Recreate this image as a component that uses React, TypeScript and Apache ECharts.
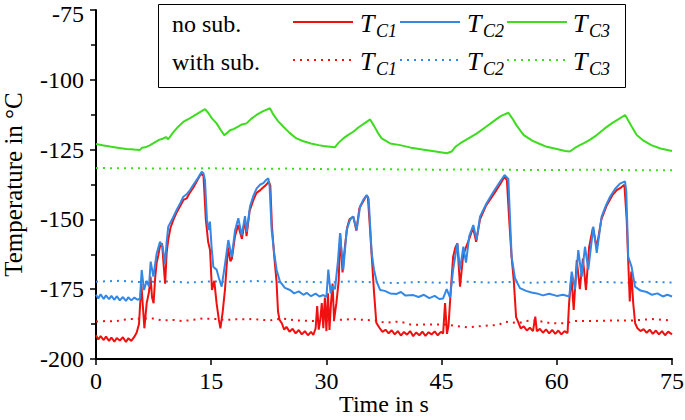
import React, { useEffect, useRef } from "react";
import * as echarts from "echarts";

const FONT = "'Liberation Serif', serif";

const xTicks = [0, 15, 30, 45, 60, 75];
const yTicks = [-200, -175, -150, -125, -100, -75];

const colorC1 = "#f01010";
const colorC2 = "#3388e6";
const colorC3 = "#3ddc1f";

// T_C1, no substitute (solid red)
const tc1NoSub: [number, number][] = [
  [0, -191.5], [0.3, -193], [0.6, -191.8], [1, -193.2], [1.3, -192], [1.7, -193.5], [2, -192.3], [2.4, -193.8],
  [2.7, -192.5], [3.1, -193.4], [3.5, -192.2], [3.9, -193.9], [4.2, -192.6], [4.6, -193.5], [5, -192], [5.3, -190.5],
  [5.6, -187.5], [5.9, -173], [6.1, -181], [6.3, -189], [6.6, -180], [6.9, -176], [7.1, -170.5], [7.3, -178],
  [7.5, -180], [7.7, -171], [7.9, -165.5], [8.1, -163], [8.3, -160], [8.6, -158.6], [8.8, -166], [9.0, -173],
  [9.2, -162], [9.4, -157.4], [9.7, -153], [10.1, -150], [10.5, -147.5], [11, -145], [11.4, -143], [11.8, -142.5],
  [12.2, -140.5], [12.7, -138.5], [13.2, -136], [13.7, -133.5], [14.0, -134.5], [14.3, -150], [14.6, -158],
  [14.85, -161], [15.1, -175.3], [15.4, -172], [15.7, -180], [16.0, -186], [16.2, -189], [16.5, -183], [16.8, -175],
  [17.0, -167], [17.2, -160], [17.5, -165], [17.7, -164], [18.1, -156], [18.5, -152], [19.0, -157], [19.4, -150],
  [19.6, -156], [20.0, -147], [20.5, -143], [20.9, -140.5], [21.4, -139.5], [21.8, -138.5], [22.2, -137.5],
  [22.5, -136.4], [22.7, -138], [22.9, -152], [23.2, -163], [23.5, -172], [23.7, -183], [23.9, -186], [24.2, -187.2],
  [24.5, -189.5], [24.8, -188.5], [25.2, -190.2], [25.6, -189.2], [26, -190.8], [26.4, -189.6], [26.8, -191.2],
  [27.2, -190], [27.6, -191.5], [28, -190.3], [28.3, -191.4], [28.6, -189], [28.8, -181], [29.0, -189.5],
  [29.2, -186], [29.4, -180], [29.6, -189], [29.8, -178], [30.0, -190], [30.2, -176.5], [30.4, -189.6], [30.6, -180],
  [30.8, -173], [31.0, -186], [31.3, -180], [31.6, -172], [31.8, -155], [32.1, -169], [32.4, -160], [32.7, -153],
  [33.0, -150], [33.5, -149], [33.9, -154], [34.3, -146], [34.8, -143.5], [35.2, -141.5], [35.4, -142], [35.6, -150],
  [35.9, -163], [36.2, -176], [36.5, -187], [36.9, -188.8], [37.3, -190.3], [37.7, -189.5], [38.1, -190.8],
  [38.5, -189.7], [38.9, -191.2], [39.3, -190], [39.7, -191.6], [40.1, -190.3], [40.5, -191.3], [40.9, -190],
  [41.3, -191.8], [41.7, -190.5], [42.1, -191.5], [42.5, -190.2], [42.9, -191.7], [43.3, -190.4], [43.7, -191.2],
  [44.1, -190.1], [44.5, -191.5], [44.9, -190.3], [45.2, -190.8], [45.45, -180], [45.7, -191], [45.9, -188],
  [46.2, -175.3], [46.5, -163.4], [46.8, -160], [47.05, -158.6], [47.4, -174.1], [47.8, -163], [48.2, -159.8],
  [48.6, -157], [49.1, -153], [49.5, -158], [50, -150], [50.8, -145], [51.9, -140.5], [52.6, -137.5], [53.2, -134.7],
  [53.5, -136], [53.8, -150], [54.1, -163], [54.4, -172], [54.7, -185], [55.0, -187], [55.3, -189], [55.7, -188.3],
  [56.1, -189.8], [56.5, -188.8], [56.9, -190], [57.2, -184.8], [57.4, -190], [57.8, -189.2], [58.2, -190.6],
  [58.6, -189.4], [59, -190.8], [59.4, -189.6], [59.8, -191], [60.2, -189.8], [60.6, -191.2], [61, -190],
  [61.4, -190.7], [61.6, -180], [61.9, -170.5], [62.2, -182.4], [62.6, -164.6], [63.0, -175], [63.4, -164],
  [63.8, -175.3], [64.2, -160], [64.7, -153], [65.2, -160], [65.8, -150], [66.5, -145], [67.2, -141.5],
  [67.8, -139.5], [68.4, -138.5], [68.8, -137.6], [69.1, -150], [69.3, -165], [69.5, -179.4], [69.7, -168.7],
  [69.95, -180], [70.2, -187.2], [70.5, -189], [70.9, -190], [71.3, -189.3], [71.7, -190.6], [72.1, -189.5],
  [72.5, -191], [72.9, -189.8], [73.3, -191.2], [73.7, -190], [74.1, -191.5], [74.5, -190.2], [75, -191.2],
];

// T_C2, no substitute (solid blue)
const tc2NoSub: [number, number][] = [
  [0, -177], [0.3, -178.3], [0.6, -176.8], [1, -178.5], [1.3, -177.2], [1.7, -178.6], [2, -177.4], [2.4, -178.8],
  [2.7, -177.5], [3.1, -179], [3.5, -177.8], [3.9, -179.2], [4.2, -177.9], [4.6, -179], [5, -178], [5.4, -178.8],
  [5.73, -178.3], [5.95, -168.1], [6.25, -175.3], [6.6, -172], [6.9, -174], [7.12, -165.1], [7.47, -170.5],
  [7.9, -162.2], [8.33, -158], [8.68, -159.8], [8.98, -166], [9.2, -158], [9.41, -152.6], [10.0, -149.5],
  [10.5, -146.6], [11.0, -144], [11.37, -141.9], [11.8, -141], [12.24, -139.5], [12.7, -137.5], [13.2, -135.5],
  [13.76, -132.9], [14.0, -133.5], [14.19, -136], [14.45, -150], [14.63, -153.8], [14.84, -150.8], [15.05, -160],
  [15.28, -167], [15.71, -168], [16.0, -171], [16.36, -174.1], [16.8, -166], [17.23, -157.4], [17.67, -163.4],
  [18.1, -154], [18.53, -149.6], [18.97, -155.7], [19.4, -148.8], [19.62, -154.5], [20.05, -145.4], [20.5, -141.5],
  [20.92, -138.9], [21.4, -137.5], [21.79, -137], [22.1, -136], [22.44, -135.3], [22.6, -138], [22.87, -153.8],
  [23.2, -162], [23.52, -168.1], [23.96, -172.3], [24.6, -174.5], [25.26, -175.3], [25.8, -176.5], [26.4, -175.8],
  [27.0, -177], [27.43, -176.3], [28, -177.5], [28.6, -176.6], [29.1, -177.6], [29.6, -177.1], [30.0, -177.8],
  [30.25, -168], [30.55, -176.5], [30.8, -174], [31.12, -175], [31.5, -165], [31.77, -155], [32.0, -162],
  [32.2, -168], [32.64, -153.8], [33.1, -150], [33.5, -149], [33.94, -153.8], [34.38, -145.4], [34.8, -143],
  [35.25, -141.3], [35.5, -142.5], [35.9, -162.1], [36.2, -168], [36.55, -172.3], [37.0, -175.3], [37.6, -175.6],
  [38.3, -176.5], [39.15, -176.7], [39.7, -176], [40.3, -177.3], [41.32, -177.1], [42, -177.8], [42.7, -177],
  [43.4, -178.2], [44.1, -177.4], [44.7, -178.5], [45.2, -178.3], [45.66, -175], [46.1, -178], [46.5, -168],
  [47.05, -158.6], [47.4, -168], [47.83, -159.8], [48.18, -165.5], [48.6, -156], [49.13, -152], [49.55, -157.4],
  [50.0, -149], [50.85, -144.2], [51.9, -139.5], [52.6, -136.5], [53.2, -134.1], [53.69, -135.5], [54.12, -163.4],
  [54.56, -171.1], [55.2, -174.6], [56, -175.6], [56.7, -176.2], [57.4, -176.5], [58.2, -177.2], [59, -176.6],
  [60.0, -177.4], [60.8, -177], [61.63, -177.6], [61.94, -168.7], [62.37, -175], [62.8, -161], [63.24, -170.5],
  [63.67, -159.8], [64.1, -168], [64.76, -152.6], [65.2, -162], [65.84, -149], [66.4, -145], [66.93, -141.9],
  [67.6, -139], [68.23, -137.2], [68.88, -136.4], [69.05, -140], [69.3, -163.4], [69.74, -167], [70.18, -174.1],
  [70.9, -175.5], [71.7, -176], [72.4, -177], [73.1, -176.5], [73.8, -177.6], [74.4, -177], [75, -177.6],
];

// T_C3, no substitute (solid green)
const tc3NoSub: [number, number][] = [
  [0, -123], [1, -123.5], [2, -124], [3, -124.4], [4, -124.8], [5, -125], [5.73, -125.1], [6.0, -124.3],
  [6.4, -124.2], [7, -123.5], [7.6, -122.5], [8.2, -121.5], [8.77, -121], [9.1, -120.5], [9.4, -121.3], [10, -119],
  [10.7, -116.8], [11.4, -115], [12.2, -113.8], [13, -112.5], [13.7, -111.3], [14.2, -110.5], [14.6, -111.8],
  [15.1, -113.8], [15.7, -115.6], [16.2, -117.8], [16.7, -119.8], [17.1, -119], [17.5, -118], [17.9, -117.7],
  [18.5, -116.8], [19, -116], [19.6, -115.6], [20.2, -114], [20.9, -112.6], [21.7, -111.3], [22.65, -110.2],
  [23.1, -112.5], [23.7, -114.8], [24.4, -116.8], [25.2, -119], [26.1, -121], [27, -122], [28, -122.8],
  [29, -123.4], [29.6, -123.7], [30.5, -124], [31.1, -124.2], [31.6, -122.5], [32.2, -121], [32.8, -119.8],
  [33.5, -118.6], [34.2, -117], [35, -115.5], [35.7, -114.2], [36.2, -116.5], [36.7, -119], [37.2, -121],
  [38.3, -122.8], [39.6, -123.4], [41, -124.3], [42.5, -125], [44, -125.6], [45.7, -126.3], [46.3, -125.7],
  [46.8, -124], [47.4, -122.8], [48.5, -121], [49.6, -119.2], [50.7, -117], [51.7, -115], [52.7, -113],
  [53.7, -111.8], [54.2, -113.8], [54.8, -116.5], [55.7, -119.8], [56.8, -121.8], [57.8, -123], [58.7, -124],
  [60, -124.8], [61.1, -125.5], [61.7, -125.7], [62.3, -124.5], [63.0, -123.4], [63.6, -122.6], [64.3, -121.5],
  [65.2, -119.8], [66.2, -117.5], [67.2, -115.5], [68.1, -114], [68.9, -112.6], [69.6, -116], [70.4, -119.8],
  [71.3, -121.8], [72.3, -123.4], [73.5, -124.6], [75, -125.5],
];

// with substitute (dotted)
const tc1WithSub: [number, number][] = [
  [0, -186.6], [1.3, -186.4], [2.5, -186.5], [3.5, -186], [4.34, -185.7], [6.08, -185.5], [7.4, -185.5],
  [8.7, -186.2], [10, -186], [11.3, -186.4], [12.6, -186], [13.9, -185.5], [15.6, -185.7], [16.9, -186],
  [18.2, -185.8], [20.4, -185.7], [22.6, -186.2], [24.3, -185.5], [26, -186.2], [28.2, -186.4], [30.4, -186.2],
  [33.4, -185.7], [35, -186], [36.5, -186.2], [37.6, -187], [39.4, -186.6], [40.2, -187], [41.1, -187.8],
  [43, -187.6], [45.4, -187.6], [47, -188.2], [48.5, -188.7], [49.8, -188.3], [51, -188], [52.4, -187.8],
  [53.3, -186.6], [55.0, -187.2], [55.9, -186.4], [57.2, -186.2], [59.3, -187.2], [61.07, -187.2], [62.4, -186.4],
  [64.5, -186.4], [67.1, -186.2], [69.8, -186.2], [72.4, -185.7], [75, -186.2],
];

const tc2WithSub: [number, number][] = [
  [0, -172.3], [3, -172], [6, -172.5], [9, -172.2], [12, -172.6], [15, -172.2], [18, -172.4], [21, -172.1],
  [24, -172.5], [27, -172.3], [30, -172.6], [33, -172.2], [36, -172.5], [39, -172.8], [42, -172.4], [45, -172.7],
  [48, -172.3], [51, -172.6], [54, -172.4], [57, -172.7], [60, -172.3], [63, -172.6], [66, -172.4], [69, -172.7],
  [72, -172.3], [75, -172.6],
];

const tc3WithSub: [number, number][] = [
  [0, -131.6], [5, -131.7], [10, -131.8], [15, -131.7], [20, -131.9], [25, -131.8], [30, -132], [35, -132],
  [40, -132.1], [45, -132.2], [50, -132.1], [55, -132.3], [60, -132.3], [65, -132.2], [70, -132.4], [75, -132.4],
];

const rowLabels = ["no sub.", "with sub."];
const subscripts = ["C1", "C2", "C3"];
const legendColors = [colorC1, colorC2, colorC3];

function buildLegend() {
  const els: any[] = [];
  els.push({
    type: "rect",
    shape: { x: 158.5, y: 4.5, width: 467, height: 83 },
    style: { fill: "#fff", stroke: "#000", lineWidth: 1 },
    z: 100,
  });
  const rowY = [22, 60];
  const lineX = [293, 400, 507];
  const tX = [360, 467, 573];
  rowLabels.forEach((lab, r) => {
    els.push({
      type: "text",
      x: 172,
      y: rowY[r] + 2,
      z: 101,
      style: { text: lab, fontFamily: FONT, fontSize: 24, fill: "#000", verticalAlign: "middle", align: "left" },
    });
    for (let i = 0; i < 3; i++) {
      els.push({
        type: "line",
        z: 101,
        shape: { x1: lineX[i], y1: rowY[r], x2: lineX[i] + 60, y2: rowY[r] },
        style: r === 0
          ? { stroke: legendColors[i], lineWidth: 2 }
          : { stroke: legendColors[i], lineWidth: 2, lineDash: [2, 5] },
      });
      els.push({
        type: "text",
        x: tX[i],
        y: rowY[r] + 1,
        z: 101,
        style: { text: "T", fontFamily: FONT, fontStyle: "italic", fontSize: 26, fill: "#000", verticalAlign: "middle", align: "left" },
      });
      els.push({
        type: "text",
        x: tX[i] + 16,
        y: rowY[r] + 9,
        z: 101,
        style: { text: subscripts[i], fontFamily: FONT, fontStyle: "italic", fontSize: 18, fill: "#000", verticalAlign: "middle", align: "left" },
      });
    }
  });
  return els;
}

export default function App() {
  const ref = useRef<HTMLDivElement>(null);
  useEffect(() => {
    if (!ref.current) return;
    const chart = echarts.init(ref.current, null, { renderer: "svg" });
    const solid = (name: string, data: [number, number][], color: string) => ({
      name, type: "line", data, showSymbol: false, symbol: "none",
      lineStyle: { color, width: 2 }, itemStyle: { color }, z: 3,
    });
    const dotted = (name: string, data: [number, number][], color: string) => ({
      name, type: "line", data, showSymbol: false, symbol: "none",
      lineStyle: { color, width: 2, type: [2, 5] }, itemStyle: { color }, z: 2,
    });
    const yMax = yTicks[yTicks.length - 1];
    chart.setOption({
      animation: false,
      backgroundColor: "#fff",
      textStyle: { fontFamily: FONT },
      grid: { left: 96, right: 13, top: 10, bottom: 61, containLabel: false, outerBoundsMode: "none" },
      xAxis: {
        type: "value", min: xTicks[0], max: xTicks[xTicks.length - 1], interval: 15,
        name: "Time in s", nameLocation: "middle", nameGap: 34, nameMoveOverlap: false,
        nameTextStyle: { fontFamily: FONT, fontSize: 24, color: "#000", lineHeight: 22 },
        axisLine: { show: true, onZero: false, lineStyle: { color: "#000", width: 2 } },
        axisTick: { show: true, length: 6, lineStyle: { color: "#000", width: 1.5 } },
        axisLabel: { fontFamily: FONT, fontSize: 24, color: "#000", margin: 10 },
        splitLine: { show: false },
      },
      yAxis: {
        type: "value", min: yTicks[0], max: yMax, interval: 25,
        name: "Temperature in °C", nameLocation: "middle", nameGap: 70, nameRotate: 90,
        nameTextStyle: { fontFamily: FONT, fontSize: 25, color: "#000" },
        axisLine: { show: true, onZero: false, lineStyle: { color: "#000", width: 2 } },
        axisTick: { show: true, length: 6, lineStyle: { color: "#000", width: 1.5 } },
        minorTick: { show: true, splitNumber: 2, length: 5, lineStyle: { color: "#000", width: 1.5 } },
        axisLabel: {
          fontFamily: FONT, fontSize: 24, color: "#000", margin: 12, lineHeight: 22,
          formatter: (v: number) => (v === yMax ? "{top|" + v + "}" : String(v)),
          rich: { top: { fontFamily: FONT, fontSize: 24, color: "#000", lineHeight: 22, padding: [8, 0, 0, 0] } },
        },
        splitLine: { show: false },
        minorSplitLine: { show: false },
      },
      series: [
        dotted("T_C1 with sub.", tc1WithSub, colorC1),
        dotted("T_C2 with sub.", tc2WithSub, colorC2),
        dotted("T_C3 with sub.", tc3WithSub, colorC3),
        solid("T_C1 no sub.", tc1NoSub, colorC1),
        solid("T_C2 no sub.", tc2NoSub, colorC2),
        solid("T_C3 no sub.", tc3NoSub, colorC3),
      ],
      graphic: buildLegend(),
    });
    return () => chart.dispose();
  }, []);
  return <div ref={ref} style={{ position: "fixed", left: 0, top: 0, width: 685, height: 420 }} />;
}
